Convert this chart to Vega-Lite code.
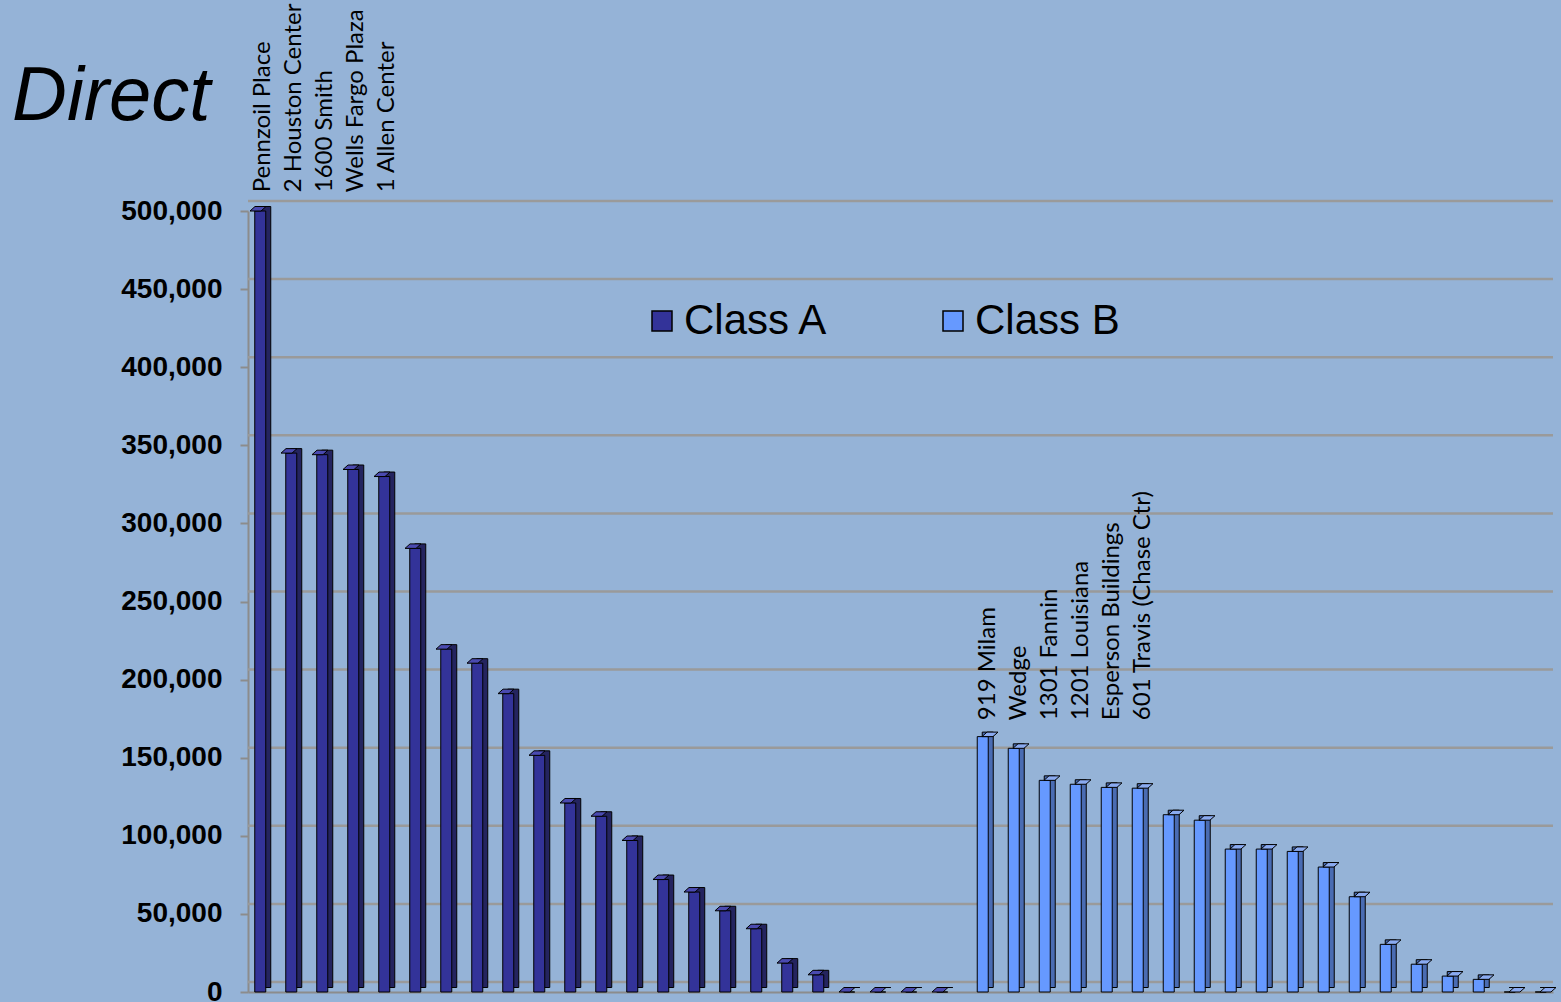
{
  "$schema": "https://vega.github.io/schema/vega-lite/v6.json",
  "width": 1305,
  "height": 781,
  "autosize": {"type": "none"},
  "padding": {"left": 248, "top": 211, "right": 8, "bottom": 10},
  "background": "#95b3d7",
  "title": {"text": "Direct", "font": "Liberation Sans", "fontSize": 76, "fontStyle": "italic", "fontWeight": "normal", "color": "black", "anchor": "start", "frame": "group", "dx": -236, "dy": 192, "offset": 0, "baseline": "alphabetic"},
  "config": {"view": {"stroke": null}},
  "datasets": {
    "bars": [
      {"slot": 1, "class": "Class A", "value": 500000, "name": "Pennzoil Place"},
      {"slot": 2, "class": "Class A", "value": 345000, "name": "2 Houston Center"},
      {"slot": 3, "class": "Class A", "value": 344000, "name": "1600 Smith"},
      {"slot": 4, "class": "Class A", "value": 334500, "name": "Wells Fargo Plaza"},
      {"slot": 5, "class": "Class A", "value": 330000, "name": "1 Allen Center"},
      {"slot": 6, "class": "Class A", "value": 284000, "name": null},
      {"slot": 7, "class": "Class A", "value": 219500, "name": null},
      {"slot": 8, "class": "Class A", "value": 210500, "name": null},
      {"slot": 9, "class": "Class A", "value": 191000, "name": null},
      {"slot": 10, "class": "Class A", "value": 151500, "name": null},
      {"slot": 11, "class": "Class A", "value": 121000, "name": null},
      {"slot": 12, "class": "Class A", "value": 112500, "name": null},
      {"slot": 13, "class": "Class A", "value": 97000, "name": null},
      {"slot": 14, "class": "Class A", "value": 72000, "name": null},
      {"slot": 15, "class": "Class A", "value": 64000, "name": null},
      {"slot": 16, "class": "Class A", "value": 52000, "name": null},
      {"slot": 17, "class": "Class A", "value": 40500, "name": null},
      {"slot": 18, "class": "Class A", "value": 18500, "name": null},
      {"slot": 19, "class": "Class A", "value": 11000, "name": null},
      {"slot": 20, "class": "Class A", "value": 0, "name": null},
      {"slot": 21, "class": "Class A", "value": 0, "name": null},
      {"slot": 22, "class": "Class A", "value": 0, "name": null},
      {"slot": 23, "class": "Class A", "value": 0, "name": null},
      {"slot": 24, "class": "Class B", "value": 163500, "name": "919 Milam"},
      {"slot": 25, "class": "Class B", "value": 156000, "name": "Wedge"},
      {"slot": 26, "class": "Class B", "value": 135500, "name": "1301 Fannin"},
      {"slot": 27, "class": "Class B", "value": 133000, "name": "1201 Louisiana"},
      {"slot": 28, "class": "Class B", "value": 131000, "name": "Esperson Buildings"},
      {"slot": 29, "class": "Class B", "value": 130500, "name": "601 Travis (Chase Ctr)"},
      {"slot": 30, "class": "Class B", "value": 113500, "name": null},
      {"slot": 31, "class": "Class B", "value": 110000, "name": null},
      {"slot": 32, "class": "Class B", "value": 91500, "name": null},
      {"slot": 33, "class": "Class B", "value": 91500, "name": null},
      {"slot": 34, "class": "Class B", "value": 90000, "name": null},
      {"slot": 35, "class": "Class B", "value": 80000, "name": null},
      {"slot": 36, "class": "Class B", "value": 61000, "name": null},
      {"slot": 37, "class": "Class B", "value": 30500, "name": null},
      {"slot": 38, "class": "Class B", "value": 17800, "name": null},
      {"slot": 39, "class": "Class B", "value": 10200, "name": null},
      {"slot": 40, "class": "Class B", "value": 8100, "name": null},
      {"slot": 41, "class": "Class B", "value": 0, "name": null},
      {"slot": 42, "class": "Class B", "value": 0, "name": null}
    ],
    "grid": [
      {"level": 0}, {"level": 50000}, {"level": 100000}, {"level": 150000},
      {"level": 200000}, {"level": 250000}, {"level": 300000}, {"level": 350000},
      {"level": 400000}, {"level": 450000}, {"level": 500000}
    ]
  },
  "data": {"name": "bars"},
  "layer": [
    {
      "data": {"name": "grid"},
      "mark": {"type": "rule", "color": "#9a9a9a", "strokeWidth": 2.5, "yOffset": -10},
      "encoding": {
        "y": {"field": "level", "type": "quantitative", "title": null,
          "scale": {"domain": [0, 500000], "nice": false},
          "axis": {"values": [0, 50000, 100000, 150000, 200000, 250000, 300000, 350000, 400000, 450000, 500000], "format": ",d", "grid": false, "labelFont": "Liberation Sans", "labelFontWeight": "bold", "labelFontSize": 28, "labelColor": "black", "labelPadding": 18, "tickSize": 8, "tickWidth": 2, "tickColor": "#8c8c8c", "domainColor": "#8c8c8c", "domainWidth": 2}}
      }
    },
    {
      "mark": {"type": "bar", "width": 11, "yOffset": -4.5, "y2Offset": -4.5, "stroke": "black", "strokeWidth": 1},
      "encoding": {
        "x": {"field": "slot", "type": "ordinal", "title": null,
          "scale": {"type": "band", "paddingInner": 0.387, "paddingOuter": 0.242},
          "axis": {"labels": false, "ticks": false, "domainColor": "#8c8c8c", "domainWidth": 2, "grid": false}},
        "xOffset": {"field": "class", "type": "nominal", "scale": {"domain": ["Class A", "Class B"], "range": [5, 24], "paddingInner": 0, "paddingOuter": 0}},
        "y": {"field": "value", "type": "quantitative", "title": null, "scale": {"domain": [0, 500000], "nice": false}},
        "fill": {"condition": {"test": "datum['class'] === 'Class A'", "value": "#24245f"}, "value": "#4a6cb3"}
      }
    },
    {
      "mark": {"type": "bar", "width": 11, "stroke": "black", "strokeWidth": 1},
      "encoding": {
        "x": {"field": "slot", "type": "ordinal", "title": null,
          "scale": {"type": "band", "paddingInner": 0.387, "paddingOuter": 0.242},
          "axis": {"labels": false, "ticks": false, "domainColor": "#8c8c8c", "domainWidth": 2, "grid": false}},
        "xOffset": {"field": "class", "type": "nominal", "scale": {"domain": ["Class A", "Class B"], "range": [0, 19], "paddingInner": 0, "paddingOuter": 0}},
        "y": {"field": "value", "type": "quantitative", "title": null, "scale": {"domain": [0, 500000], "nice": false}},
        "color": {"field": "class", "type": "nominal",
          "scale": {"domain": ["Class A", "Class B"], "range": ["#333399", "#6699ff"]},
          "legend": {"title": null, "orient": "none", "legendX": 393, "legendY": 89, "direction": "horizontal", "columns": 2, "symbolType": "square", "symbolSize": 400, "symbolStrokeColor": "black", "symbolStrokeWidth": 1.5, "labelFont": "Liberation Sans", "labelFontSize": 42, "labelColor": "black", "labelOffset": 1, "columnPadding": 103, "labelLimit": 500, "padding": 0,
            "encode": {"symbols": {"update": {"stroke": {"value": "black"}, "strokeWidth": {"value": 1.5}}}}}}
      }
    },
    {
      "mark": {"type": "point", "shape": "M -0.55 0 L 0.55 0 L 1.05 -0.45 L -0.05 -0.45 Z", "size": 400, "filled": true, "opacity": 1, "stroke": "black", "strokeWidth": 1},
      "encoding": {
        "x": {"field": "slot", "type": "ordinal", "title": null,
          "scale": {"type": "band", "paddingInner": 0.387, "paddingOuter": 0.242},
          "axis": {"labels": false, "ticks": false, "domainColor": "#8c8c8c", "domainWidth": 2, "grid": false}},
        "xOffset": {"field": "class", "type": "nominal", "scale": {"domain": ["Class A", "Class B"], "range": [0, 19], "paddingInner": 0, "paddingOuter": 0}},
        "y": {"field": "value", "type": "quantitative", "title": null, "scale": {"domain": [0, 500000], "nice": false}},
        "fill": {"condition": {"test": "datum['class'] === 'Class A'", "value": "#4a4ab0"}, "value": "#8aaaf0"}
      }
    },
    {
      "transform": [{"filter": "datum.name != null && datum['class'] === 'Class A'"}],
      "mark": {"type": "text", "angle": 270, "align": "left", "baseline": "middle", "dy": 7, "font": "Lato", "fontSize": 24, "color": "black"},
      "encoding": {
        "x": {"field": "slot", "type": "ordinal", "title": null,
          "scale": {"type": "band", "paddingInner": 0.387, "paddingOuter": 0.242},
          "axis": {"labels": false, "ticks": false, "domainColor": "#8c8c8c", "domainWidth": 2, "grid": false}},
        "xOffset": {"field": "class", "type": "nominal", "scale": {"domain": ["Class A", "Class B"], "range": [0, 19], "paddingInner": 0, "paddingOuter": 0}},
        "y": {"datum": 512000, "type": "quantitative", "scale": {"domain": [0, 500000], "nice": false}},
        "text": {"field": "name", "type": "nominal"}
      }
    },
    {
      "transform": [{"filter": "datum.name != null && datum['class'] === 'Class B'"}],
      "mark": {"type": "text", "angle": 270, "align": "left", "baseline": "middle", "dy": 1, "font": "Lato", "fontSize": 24, "color": "black"},
      "encoding": {
        "x": {"field": "slot", "type": "ordinal", "title": null,
          "scale": {"type": "band", "paddingInner": 0.387, "paddingOuter": 0.242},
          "axis": {"labels": false, "ticks": false, "domainColor": "#8c8c8c", "domainWidth": 2, "grid": false}},
        "xOffset": {"field": "class", "type": "nominal", "scale": {"domain": ["Class A", "Class B"], "range": [0, 19], "paddingInner": 0, "paddingOuter": 0}},
        "y": {"datum": 174000, "type": "quantitative", "scale": {"domain": [0, 500000], "nice": false}},
        "text": {"field": "name", "type": "nominal"}
      }
    }
  ],
  "resolve": {"scale": {"xOffset": "independent"}}
}
